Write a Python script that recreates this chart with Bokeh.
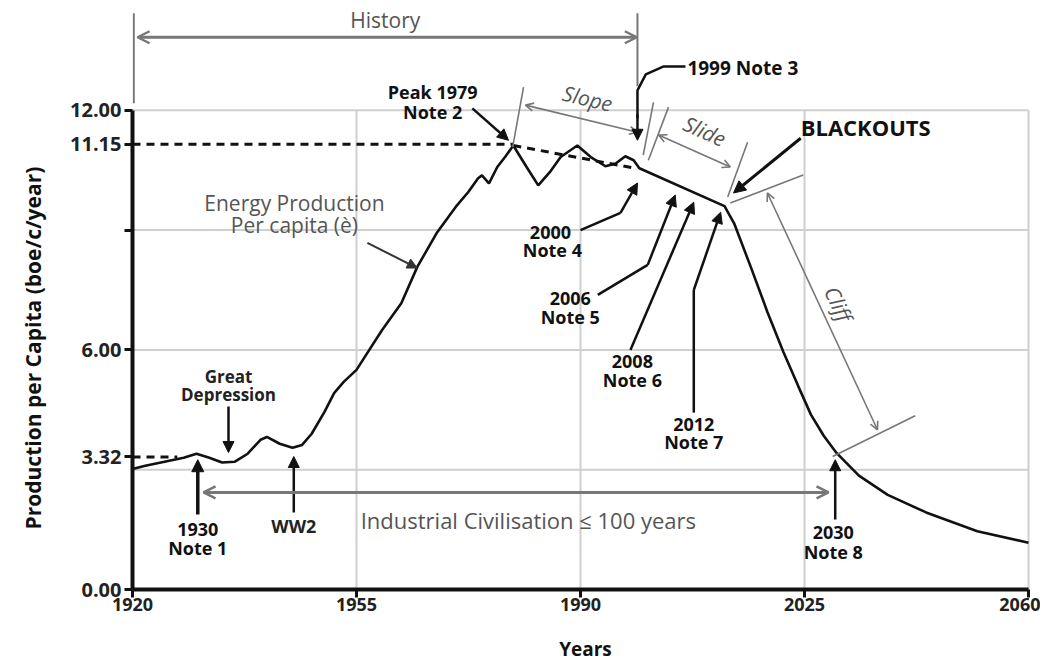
from bokeh.plotting import figure
from bokeh.models import Range1d, FixedTicker, NumeralTickFormatter, Arrow, NormalHead, OpenHead
from bokeh.core.properties import value
from bokeh.embed import file_html
from bokeh.resources import INLINE

# ---------------- data ----------------
years = [1920, 1922, 1925, 1928, 1930, 1932, 1934, 1936, 1938, 1940, 1941, 1943, 1945,
         1946.5, 1948, 1950, 1951.5, 1953, 1955, 1957, 1959, 1962, 1964.5, 1967.5, 1970.5,
         1972.5, 1974, 1974.6, 1975.7, 1977, 1978.3, 1979.5, 1981.5, 1983.4, 1985.2, 1986.9,
         1989.5, 1991.6, 1993.9, 1995.5, 1997, 1998.3, 1999.2, 2012.5, 2014, 2016.6, 2019.2,
         2021.7, 2024, 2026, 2028, 2030, 2033.5, 2038, 2044, 2052, 2060]
production = [3.02, 3.1, 3.2, 3.3, 3.4, 3.3, 3.18, 3.2, 3.4, 3.75, 3.82, 3.65, 3.55,
              3.62, 3.9, 4.45, 4.92, 5.2, 5.5, 6.0, 6.5, 7.17, 8.08, 8.92, 9.58,
              9.96, 10.3, 10.37, 10.17, 10.58, 10.85, 11.12, 10.6, 10.12, 10.45, 10.83,
              11.12, 10.83, 10.6, 10.67, 10.85, 10.75, 10.55, 9.6, 9.17, 8.08, 6.95,
              5.95, 5.1, 4.38, 3.85, 3.42, 2.85, 2.37, 1.93, 1.46, 1.17]

x_ticks = [1920, 1955, 1990, 2025, 2060]
y_ticks = [0, 3.32, 6, 9, 11.15, 12]
grid_years = [1955, 1990, 2025, 2060]
grid_levels = [3, 6, 9, 12]
peak_level = 11.15
base_level = 3.32
peak_year = 1979.5
slope_end = (1998.5, 10.55)

X0, X1 = 1920, 2060
Y_TOP = 12

BLACK = "#111111"
GRAY = "#555555"
LGRAY = "#777777"
GRID = "#cfcfcf"
FONT = value("Open Sans")

p = figure(width=1040, height=664,
           x_range=Range1d(1920, 2061.56), y_range=Range1d(0, 14.55),
           output_backend="svg", toolbar_location=None,
           min_border_left=132, min_border_right=2, min_border_top=8, min_border_bottom=74)
p.outline_line_color = None
p.xgrid.visible = False
p.ygrid.visible = False
p.background_fill_color = "white"
p.border_fill_color = "white"

# grid lines (manual, limited to the data box)
p.segment(x0=grid_years, y0=[0] * len(grid_years), x1=grid_years, y1=[Y_TOP] * len(grid_years),
          line_color=GRID, line_width=2)
p.segment(x0=[X0] * len(grid_levels), y0=grid_levels, x1=[X1] * len(grid_levels), y1=grid_levels,
          line_color=GRID, line_width=2)

# axes
for ax in (p.xaxis, p.yaxis):
    ax.axis_line_width = 4
    ax.axis_line_color = BLACK
    ax.major_tick_line_width = 3
    ax.major_tick_line_color = BLACK
    ax.major_tick_out = 8
    ax.major_tick_in = 0
    ax.minor_tick_line_color = None
    ax.major_label_text_font = "Open Sans"
    ax.major_label_text_font_style = "bold"
    ax.major_label_text_color = "#222222"
    ax.axis_label_text_font = "Open Sans"
    ax.axis_label_text_font_style = "bold"
    ax.axis_label_text_color = BLACK

p.xaxis.ticker = FixedTicker(ticks=x_ticks)
p.xaxis.bounds = (X0, X1)
p.xaxis.major_label_standoff = 0
p.xaxis.major_label_text_font_size = "18px"
p.xaxis.axis_label = "Years"
p.xaxis.axis_label_text_font_size = "19px"
p.xaxis.axis_label_standoff = 22

p.yaxis.ticker = FixedTicker(ticks=y_ticks)
p.yaxis.formatter = NumeralTickFormatter(format="0.00")
p.yaxis.major_label_overrides = {9: ""}
p.yaxis.bounds = (0, Y_TOP)
p.yaxis.major_label_standoff = 3
p.yaxis.major_label_text_font_size = "20px"
p.yaxis.axis_label = "Production per Capita (boe/c/year)" + "\u00a0" * 18
p.yaxis.axis_label_text_font_size = "21px"
p.yaxis.axis_label_standoff = 20

# dashed reference lines
p.line([X0, peak_year], [peak_level, peak_level], line_color=BLACK, line_width=3, line_dash="8 6")
p.line([X0, 1927], [base_level, base_level], line_color=BLACK, line_width=3, line_dash="8 6")
p.line([peak_year, slope_end[0]], [production[31], slope_end[1]], line_color=BLACK, line_width=3,
       line_dash="8 6")

# main curve
p.line(years, production, line_color=BLACK, line_width=2.6)


def arrow(xs, ys, xe, ye, color=BLACK, width=2.5, size=11, both=False, open_head=False, lw_head=None):
    def head():
        if open_head:
            return OpenHead(size=size, line_color=color, line_width=lw_head or width)
        return NormalHead(size=size, fill_color=color, line_color=color, line_width=1)
    a = Arrow(x_start=xs, y_start=ys, x_end=xe, y_end=ye, line_color=color, line_width=width,
              end=head(), start=head() if both else None)
    p.add_layout(a)


def txt(x, y, s, size="18px", color=BLACK, style="bold", align="center", angle=0.0):
    p.text(x=[x], y=[y], text=[s], text_font=FONT, text_font_size=value(size),
           text_font_style=style, text_color=color, text_align=align,
           text_baseline="middle", angle=angle)


# ---- History bracket ----
txt(1959.5, 14.25, "History", size="21px", color=GRAY, style="normal")
arrow(1920.8, 13.83, 1998.8, 13.83, color=LGRAY, width=3, size=12, both=True, open_head=True, lw_head=2.5)
p.segment(x0=[1920.2, 1998.9], y0=[14.43, 14.43], x1=[1920.2, 1998.9], y1=[12.18, 12.6],
          line_color=LGRAY, line_width=2)

# ---- Peak 1979 ----
txt(1966.9, 12.45, "Peak 1979")
txt(1966.9, 11.95, "Note 2")
arrow(1973.1, 12.05, 1978.75, 11.25)

# ---- Energy production label ----
txt(1945.3, 9.68, "Energy Production", size="21px", color=GRAY, style="normal")
txt(1945.3, 9.13, "Per capita (è)", size="21px", color=GRAY, style="normal")
arrow(1956.7, 8.68, 1964.5, 8.05, color="#333333", width=2, size=10)

# ---- Great Depression ----
txt(1935, 5.33, "Great", size="17px", color="#222222")
txt(1935, 4.88, "Depression", size="17px", color="#222222")
arrow(1935, 4.58, 1935, 3.43)

# ---- 1930 Note 1 ----
txt(1930.2, 1.5, "1930")
txt(1930.2, 1.03, "Note 1")
arrow(1930.2, 1.88, 1930.2, 3.25, width=3.5, size=12)

# ---- WW2 ----
txt(1945.2, 1.58, "WW2", color="#222222")
arrow(1945.2, 1.93, 1945.2, 3.33)

# ---- Industrial civilisation ----
arrow(1931.1, 2.43, 2028.75, 2.43, color=LGRAY, width=3, size=12, both=True, open_head=True, lw_head=2.5)
txt(1982.3, 1.75, "Industrial Civilisation  \u2264 100 years", size="22px", color=GRAY, style="normal")

# ---- Slope ----
p.segment(x0=[1981.1, 2001.4, 2003.75], y0=[12.58, 12.2, 12.08],
          x1=[1979.4, 1999.8, 2000.6], y1=[11.08, 10.88, 10.75], line_color=LGRAY, line_width=1.6)
arrow(1981.4, 12.13, 1998.9, 11.45, color=LGRAY, width=1.6, size=8, both=True, open_head=True, lw_head=1.6)
txt(1991.1, 12.3, "Slope", size="21px", color=GRAY, style="italic", angle=-0.235)

# ---- Slide ----
arrow(2002.2, 11.38, 2013.4, 10.58, color=LGRAY, width=1.6, size=8, both=True, open_head=True, lw_head=1.6)
p.segment(x0=[2016.1], y0=[11.2], x1=[2013.0], y1=[9.83], line_color=LGRAY, line_width=1.6)
txt(2009.4, 11.48, "Slide", size="21px", color=GRAY, style="italic", angle=-0.42)

# ---- BLACKOUTS ----
txt(2024.4, 11.58, "BLACKOUTS", size="22px", align="left")
arrow(2024.4, 11.3, 2013.9, 9.93, width=3, size=12)

# ---- Cliff ----
p.segment(x0=[2024.8, 2042.3], y0=[10.38, 4.35], x1=[2013.4, 2029.4], y1=[9.68, 3.33],
          line_color=LGRAY, line_width=1.6)
arrow(2019.2, 9.93, 2036.4, 4.0, color=LGRAY, width=1.6, size=8, both=True, open_head=True, lw_head=1.6)
txt(2030.3, 7.15, "Cliff", size="21px", color=GRAY, style="italic", angle=-1.136)

# ---- 1999 Note 3 ----
txt(2006.7, 13.05, "1999 Note 3", size="19px", align="left")
p.line([2006.4, 2003.0, 2000.2, 1998.9, 1998.9], [13.1, 13.1, 12.9, 12.5, 11.8], line_color=BLACK, line_width=2.5)
arrow(1998.9, 11.9, 1998.9, 11.25)

# ---- 2000 Note 4 ----
txt(1985.3, 8.95, "2000")
txt(1985.6, 8.5, "Note 4")
p.line([1990.0, 1996.25], [9.0, 9.43], line_color=BLACK, line_width=2.5)
arrow(1996.25, 9.43, 1998.9, 10.18)

# ---- 2006 Note 5 ----
txt(1988.4, 7.3, "2006")
txt(1988.4, 6.83, "Note 5")
p.line([1992.7, 2000.5], [7.38, 8.13], line_color=BLACK, line_width=2.5)
arrow(2000.5, 8.13, 2004.8, 9.88)

# ---- 2008 Note 6 ----
txt(1998.1, 5.7, "2008")
txt(1998.1, 5.25, "Note 6")
arrow(1997.8, 6.0, 2007.7, 9.7)

# ---- 2012 Note 7 ----
txt(2007.7, 4.13, "2012")
txt(2007.7, 3.7, "Note 7")
p.line([2007.7, 2007.7], [4.43, 7.5], line_color=BLACK, line_width=2.5)
arrow(2007.7, 7.5, 2011.9, 9.45)

# ---- 2030 Note 8 ----
txt(2029.5, 1.43, "2030")
txt(2029.5, 0.95, "Note 8")
arrow(2029.8, 1.75, 2029.8, 3.25)

open("out.html", "w").write(file_html(p, INLINE))
